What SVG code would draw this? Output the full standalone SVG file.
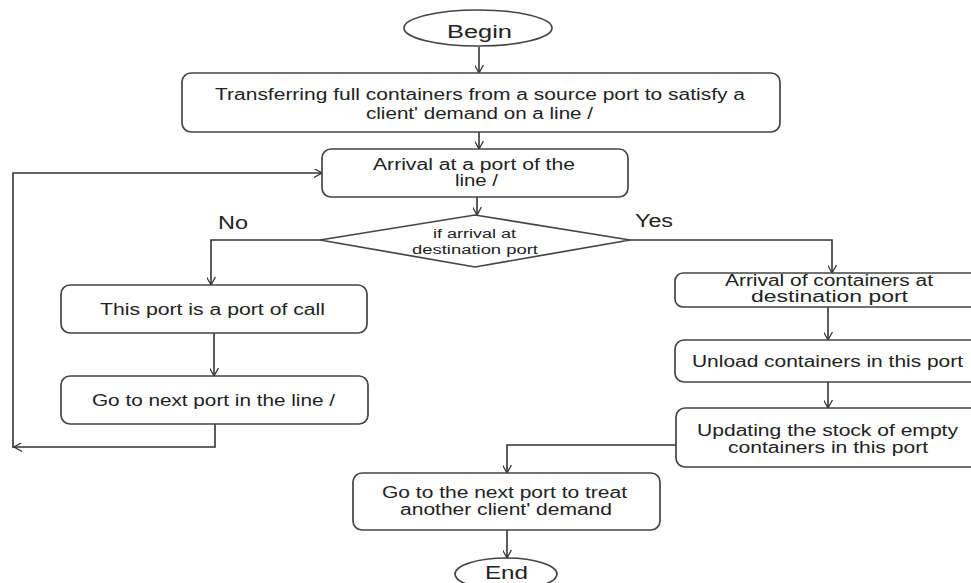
<svg xmlns="http://www.w3.org/2000/svg" width="971" height="583" viewBox="0 0 971 583">
<defs>
<marker id="arr" viewBox="0 0 10 10" refX="9" refY="5" markerWidth="9" markerHeight="9" markerUnits="userSpaceOnUse" orient="auto">
<path d="M0,0 L9,5 L0,10" fill="none" stroke="#333" stroke-width="1.4"/>
</marker>
<style>
.n{fill:#fff;stroke:#444;stroke-width:1.7}
.t{font-family:"Liberation Sans",Arial,sans-serif;font-size:16px;fill:#222}
.s{font-size:12px}
.b{font-size:18px}
.c{fill:none;stroke:#333;stroke-width:1.6;marker-end:url(#arr)}
</style>
</defs>
<rect width="971" height="583" fill="#fff"/>
<g id="connectors">
<path class="c" d="M479,47 V73"/>
<path class="c" d="M479,132 V149"/>
<path class="c" d="M477,197 V215"/>
<path class="c" d="M320,240 H211 V285"/>
<path class="c" d="M630,240 H832 V273"/>
<path class="c" d="M214,333 V376"/>
<path class="c" d="M215,424 V447 H14"/>
<path class="c" d="M13,448 V173 H322"/>
<path class="c" d="M828,307 V340"/>
<path class="c" d="M828,382 V408"/>
<path class="c" d="M676,445 H507 V473"/>
<path class="c" d="M507,530 V558"/>
</g>
<g id="begin">
<ellipse class="n" cx="478" cy="28" rx="74" ry="18"/>
<text class="t b" x="447" y="38" textLength="65" lengthAdjust="spacingAndGlyphs">Begin</text>
</g>
<g id="transfer">
<rect class="n" x="182" y="73" width="598" height="59" rx="9"/>
<text class="t" x="215" y="100" textLength="530" lengthAdjust="spacingAndGlyphs">Transferring full containers from a source port to satisfy a</text>
<text class="t" x="366" y="119" textLength="227" lengthAdjust="spacingAndGlyphs">client' demand on a line /</text>
</g>
<g id="arrival">
<rect class="n" x="322" y="149" width="306" height="48" rx="9"/>
<text class="t" x="373" y="170" textLength="202" lengthAdjust="spacingAndGlyphs">Arrival at a port of the</text>
<text class="t" x="455" y="186" textLength="43" lengthAdjust="spacingAndGlyphs">line /</text>
</g>
<g id="decision">
<polygon class="n" points="320,240 475,215 630,240 475,267"/>
<text class="t s" x="433" y="238" textLength="83" lengthAdjust="spacingAndGlyphs">if arrival at</text>
<text class="t s" x="412" y="254" textLength="126" lengthAdjust="spacingAndGlyphs">destination port</text>
</g>
<g id="labels">
<text class="t b" x="218" y="229" textLength="30" lengthAdjust="spacingAndGlyphs">No</text>
<text class="t b" x="635" y="227" textLength="38" lengthAdjust="spacingAndGlyphs">Yes</text>
</g>
<g id="portofcall">
<rect class="n" x="61" y="285" width="306" height="48" rx="9"/>
<text class="t" x="100" y="315" textLength="225" lengthAdjust="spacingAndGlyphs">This port is a port of call</text>
</g>
<g id="gonext">
<rect class="n" x="61" y="376" width="307" height="48" rx="9"/>
<text class="t" x="92" y="406" textLength="243" lengthAdjust="spacingAndGlyphs">Go to next port in the line /</text>
</g>
<g id="arrivalcont">
<rect class="n" x="675" y="273" width="310" height="34" rx="8"/>
<text class="t" x="725" y="286" textLength="208" lengthAdjust="spacingAndGlyphs">Arrival of containers at</text>
<text class="t" x="751" y="302" textLength="157" lengthAdjust="spacingAndGlyphs">destination port</text>
</g>
<g id="unload">
<rect class="n" x="675" y="340" width="310" height="42" rx="9"/>
<text class="t" x="692" y="367" textLength="271" lengthAdjust="spacingAndGlyphs">Unload containers in this port</text>
</g>
<g id="updating">
<rect class="n" x="676" y="408" width="310" height="59" rx="9"/>
<text class="t" x="697" y="436" textLength="261" lengthAdjust="spacingAndGlyphs">Updating the stock of empty</text>
<text class="t" x="728" y="453" textLength="200" lengthAdjust="spacingAndGlyphs">containers in this port</text>
</g>
<g id="gonextport">
<rect class="n" x="353" y="473" width="307" height="57" rx="9"/>
<text class="t" x="382" y="498" textLength="245" lengthAdjust="spacingAndGlyphs">Go to the next port to treat</text>
<text class="t" x="400" y="515" textLength="212" lengthAdjust="spacingAndGlyphs">another client' demand</text>
</g>
<g id="end">
<ellipse class="n" cx="506" cy="574" rx="51" ry="16"/>
<text class="t b" x="485" y="579" textLength="43" lengthAdjust="spacingAndGlyphs">End</text>
</g>
</svg>
